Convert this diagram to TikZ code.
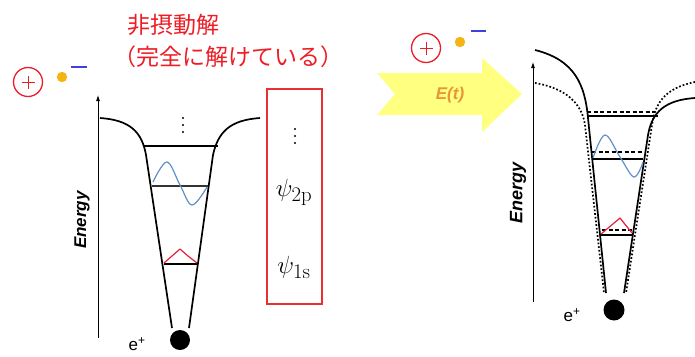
\documentclass[tikz,border=0pt]{standalone}
\usepackage[no-math]{fontspec}
\setmainfont{Liberation Sans}
\newfontfamily\jpfont{Noto Sans CJK JP}
\usetikzlibrary{arrows.meta}
\definecolor{jpred}{RGB}{238,28,36}
\definecolor{boxred}{RGB}{232,48,48}
\definecolor{wfblue}{RGB}{96,144,196}
\definecolor{wfred}{RGB}{232,30,60}
\definecolor{dotorange}{RGB}{246,180,20}
\definecolor{barblue}{RGB}{64,64,224}
\definecolor{fieldyellow}{RGB}{255,255,128}
\definecolor{fieldtext}{RGB}{232,150,60}

\begin{document}
\begin{tikzpicture}
[x=1pt,y=-1pt,
 well/.style={line width=1.7pt,line join=round},
 oldwell/.style={line width=1.7pt,dotted},
 level/.style={line width=1.2pt},
 oldlevel/.style={line width=1.2pt,dash pattern=on 4pt off 2.5pt},
 axis/.style={line width=0.8pt,-{Latex[length=6pt,width=4pt]}},
 charge/.style={circle,draw=jpred,line width=1.3pt,minimum size=29pt,inner sep=0pt},
 wf2p/.style={wfblue,line width=1.2pt},
 wf1s/.style={wfred,line width=1.2pt,line join=round}]
\useasboundingbox (0,0) rectangle (695,356);

% title
\node[jpred,font=\jpfont\fontsize{23}{23}\selectfont] (t1) at (173,25) {非摂動解};
\node[jpred,font=\jpfont\fontsize{23}{23}\selectfont] (t2) at (228,57) {（完全に解けている）};

% ion and electron
\node[charge] (p1) at (28,82) {};
\node[charge] (p2) at (426,48) {};
\foreach \p in {p1,p2} {
\draw[jpred,line width=1pt] ([xshift=-6.5pt]\p.center) -- ([xshift=6.5pt]\p.center);
\draw[jpred,line width=1pt] ([yshift=-6.5pt]\p.center) -- ([yshift=6.5pt]\p.center);
}
\fill[dotorange] (62,77) circle (5.2);
\fill[dotorange] (460,42) circle (5.2);
\draw[barblue,line width=1.6pt] (71,67) -- (87,67);
\draw[barblue,line width=1.6pt] (471,31) -- (486,31);

% field arrow
\fill[fieldyellow] (377,73) -- (482,73) -- (482,58) -- (522,94) -- (482,132)
 -- (482,115) -- (377,115) -- (395,94) -- cycle;
\node[fieldtext,font=\bfseries\itshape\fontsize{17}{17}\selectfont] (Et) at (450,95) {E(t)};

% left: unperturbed well
\draw[axis] (98,338) -- (98,95);
\node[rotate=90,font=\bfseries\itshape\fontsize{17}{17}\selectfont] (en1) at (82,220) {Energy};
\draw[well] (100,118) .. controls (130,120) and (142,132) .. (146,155) -- (172,328);
\draw[well] (260,118) .. controls (230,120) and (218,132) .. (213,155) -- (189,328);
\draw[level] (143,146) -- (218,146);
\draw[level,black!80] (152,186) -- (208,186);
\draw[level] (164,264) -- (197,264);
\draw[wf2p] plot[smooth,tension=0.6] coordinates {(153,182) (167,162) (180,185) (192,205) (207,187)};
\draw[wf1s] (164,263) -- (172,256) -- (180,249) -- (188,256) -- (197,263);
\foreach \k in {0,1,2}
\fill (183,118+7*\k) circle (1.2);
\fill (180,340) circle (10);
\node[font=\fontsize{17}{17}\selectfont] (ep1) at (137,344) {e\textsuperscript{+}};

% states
\draw[boxred,line width=1.3pt] (267,89) rectangle (322,304);
\foreach \k in {0,1,2}
\fill (295,129+7*\k) circle (1.2);
\node[font=\fontsize{24.88}{26}\selectfont] (psi2p) at (294,192) {$\psi_{\mathrm{2p}}$};
\node[font=\fontsize{24.88}{26}\selectfont] (psi1s) at (294,267) {$\psi_{\mathrm{1s}}$};

% right: well in the field
\draw[axis] (533,302) -- (533,62);
\node[rotate=90,font=\bfseries\itshape\fontsize{18}{18}\selectfont] (en2) at (518,193) {Energy};
\draw[oldwell] (535,83) .. controls (565,88) and (582,103) .. (585,125) -- (604,293);
\draw[oldwell] (695,82) .. controls (665,88) and (655,103) .. (652,125) -- (626,293);
\draw[well] (535,50) .. controls (575,60) and (585,85) .. (588,118) -- (606,293);
\draw[well] (695,98) .. controls (665,100) and (652,112) .. (648,135) -- (624,293);
\draw[oldlevel] (587,112) -- (655,112);
\draw[level] (587,116) -- (658,116);
\draw[oldlevel] (592,152) -- (643,152);
\draw[level] (593,159) -- (643,159);
\draw[oldlevel] (602,230) -- (632,230);
\draw[level] (601,235) -- (633,235);
\draw[wf2p] plot[smooth,tension=0.6] coordinates {(593,158) (605,135) (620,157) (634,177) (643,162)};
\draw[wf1s] (601,234) -- (620,218) -- (632,233);
\fill (614,310) circle (10.5);
\node[font=\fontsize{17}{17}\selectfont] (ep2) at (572,315) {e\textsuperscript{+}};
\end{tikzpicture}
\end{document}
